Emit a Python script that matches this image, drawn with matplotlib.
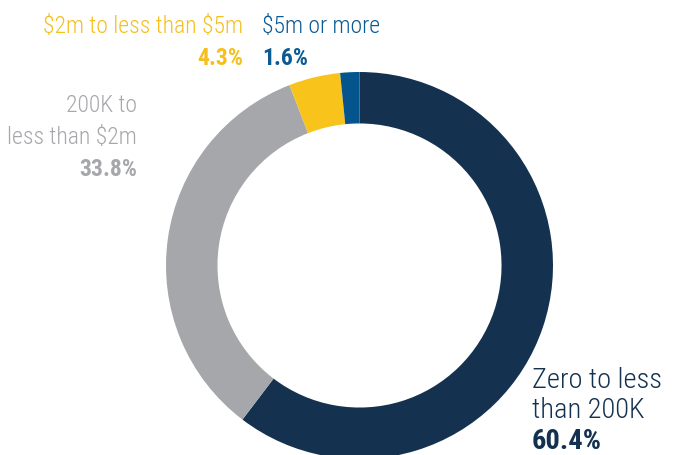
import matplotlib
matplotlib.use("Agg")
import matplotlib.pyplot as plt

# data
labels = ["Zero to less\nthan 200K", "200K to\nless than $2m", "$2m to less than $5m", "$5m or more"]
values = [60.4, 33.8, 4.3, 1.6]
pct_text = ["60.4%", "33.8%", "4.3%", "1.6%"]
colors = ["#14324f", "#a6a7aa", "#f8c31a", "#04558d"]
text_colors = ["#14324f", "#a6a7aa", "#f5bf1c", "#0a5a94"]

W, H = 686, 456
cx, cy, R = 359.5, 266.5, 193.5   # donut centre / radius in pixels

fig = plt.figure(figsize=(W / 100, H / 100), dpi=100)
ax = fig.add_axes([0, 0, 1, 1])
ax.pie(values, colors=colors, startangle=90, counterclock=False,
       wedgeprops=dict(width=0.266, linewidth=0))
ax.set_xlim(-cx / R, (W - cx) / R)
ax.set_ylim(-(H - cy) / R, cy / R)
ax.set_aspect("equal")
ax.axis("off")

fam = ["Roboto Condensed", "DejaVu Sans"]

def px(x, y):
    return x / W, 1 - y / H

# label x, first baseline, line step, alignment, font size (pixels from top-left)
pos = [(532, 388, 30.5, "left", 20.5),
       (137, 112, 32, "right", 17),
       (243, 33, 32, "right", 17),
       (262, 33, 32, "left", 17)]

for i, (x, y, step, ha, fs) in enumerate(pos):
    lines = labels[i].split("\n")
    for k, ln in enumerate(lines):
        fig.text(*px(x, y + k * step), ln, ha=ha, va="baseline", fontsize=fs,
                 color=text_colors[i], family=fam, fontweight="light", parse_math=False)
    fig.text(*px(x, y + len(lines) * step), pct_text[i], ha=ha, va="baseline",
             fontsize=fs, color=text_colors[i], family=fam, fontweight="bold",
             parse_math=False)

fig.savefig("out.png", dpi=100)
